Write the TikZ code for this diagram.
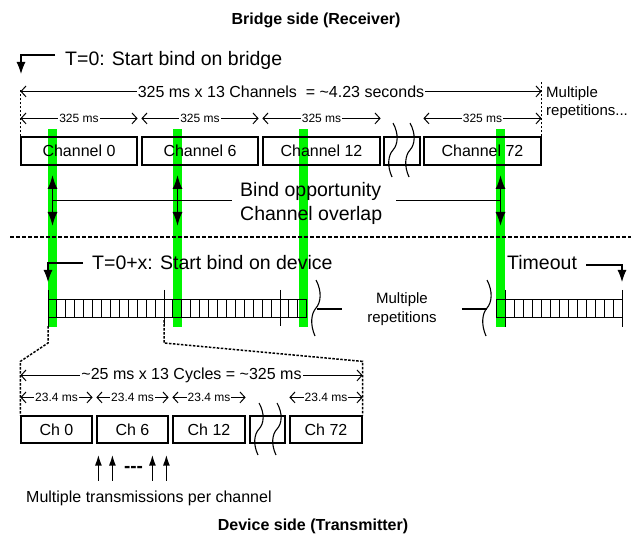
\documentclass[tikz,border=0pt]{standalone}
\usepackage{fontspec}
\setmainfont{Liberation Sans}
\usepackage{xcolor}
\usepackage{tikz}
\usetikzlibrary{arrows.meta, calc}
\definecolor{barGreen}{RGB}{0,245,0}
\newcommand\fbig{\fontsize{19.5}{24}\selectfont}
\newcommand\fmid{\fontsize{16}{19}\selectfont}
\newcommand\fnote{\fontsize{15}{18.5}\selectfont}
\newcommand\fsmall{\fontsize{12}{14}\selectfont}
\tikzset{
  chanbox/.style={rectangle, draw=black, line width=1.2pt, minimum height=28,
                  inner sep=0pt, font=\fmid},
  dimarrow/.style={{Straight Barb[length=5pt,width=11pt]}-{Straight Barb[length=5pt,width=11pt]},
                   line width=1pt},
  dimlbl/.style={fill=white, inner xsep=1pt, inner ysep=0pt, font=\fsmall},
  fillarrow/.style={-{Latex[length=12pt,width=9pt]}, line width=1.1pt},
  bindarrow/.style={{Latex[length=14pt,width=10pt]}-{Latex[length=14pt,width=10pt]}, line width=1.8pt},
  uparrow/.style={-{Latex[length=11pt,width=7pt]}, line width=1.6pt},
  thinline/.style={line width=1.1pt},
  cellline/.style={line width=1pt},
  breakline/.style={line width=1.1pt},
  zoomline/.style={dash pattern=on 2.5pt off 1.5pt, line width=1.5pt},
  sepline/.style={dash pattern=on 3.5pt off 2.5pt, line width=1.8pt},
}

\begin{document}
\begin{tikzpicture}[x=1pt, y=-1pt]
  \useasboundingbox (0,0) rectangle (631,534);

  %% Green overlap bars (behind everything)
  \foreach \bx in {48,173,299,496}
  {
    \fill[barGreen] (\bx,129) rectangle ++(9,198);
  }

  %% Titles
  \node[font=\fmid\bfseries, anchor=base] (ttop) at (316,25) {Bridge side (Receiver)};
  \node[font=\fmid\bfseries, anchor=base] (tbot) at (313,530) {Device side (Transmitter)};

  %% Bridge side channel row
  \foreach \cx/\w/\lbl/\nm in {79/116/Channel 0/c0, 200/116/Channel 6/c6,
                               321.5/117/Channel 12/c12, 402/36//cg, 482.5/117/Channel 72/c72}
  {
    \node[chanbox, minimum width=\w] (\nm) at (\cx,151) {\lbl};
  }
  \foreach \nm in {c0,c6,c12,c72}
  {
    \draw[dimarrow] ([yshift=18pt]\nm.north west) -- node[dimlbl] {325 ms} ([yshift=18pt]\nm.north east);
  }

  %% Overall span
  \draw[zoomline] (c0.north west) -- ++(0,-47);
  \draw[zoomline] (c72.north east) -- ++(0,-55);
  \draw[dimarrow] ([yshift=45pt]c0.north west) --
    node[dimlbl, font=\fmid] {325 ms x 13 Channels\ \ = \textasciitilde4.23 seconds}
    ([yshift=45pt]c72.north east);
  \node[font=\fnote, align=left, anchor=west, inner sep=0pt] (reptop) at (546,102.5) {Multiple\\repetitions...};

  %% Start marker
  \node[font=\fbig, anchor=base west, inner sep=0pt] (t0) at (65,66) {T=0: Start bind on bridge};
  \coordinate (t0tip) at (21,74);
  \draw[fillarrow] ([xshift=-10pt,yshift=11pt]t0.base west) -| (t0tip);

  %% Bind opportunity
  \foreach \ax/\nm in {52.5/b0, 177.5/b6, 500.5/b72}
  {
    \coordinate (\nm) at (\ax,200.7);
    \draw[bindarrow] (\ax,175) -- (\ax,226);
  }
  \node[font=\fbig, align=left, anchor=west, inner sep=0pt] (bind) at (240,203) {Bind opportunity\\Channel overlap};
  \draw[thinline] (b0) -- ([xshift=-8pt,yshift=2.3pt]bind.west);
  \draw[thinline] ([xshift=14pt,yshift=2.3pt]bind.east) -- (b72);

  %% Separator
  \coordinate (sepl) at (10,237);
  \coordinate (sepr) at (631,237);
  \draw[sepline] (sepl) -- (sepr);

  %% Device start / timeout
  \node[font=\fbig, anchor=base west, inner sep=0pt] (t0x) at (92,270) {T=0+x: Start bind on device};
  \coordinate (t0xtip) at (48,282);
  \draw[fillarrow] ([xshift=-9pt,yshift=7pt]t0x.base west) -| (t0xtip);
  \node[font=\fbig, anchor=base west, inner sep=0pt] (tout) at (507,270) {Timeout};
  \coordinate (touttip) at (622,282);
  \draw[fillarrow] ([xshift=9pt,yshift=5pt]tout.base east) -| (touttip);

  %% Transmission cycles
  \draw[cellline] (48,299) rectangle (306.8,317);
  \foreach \i in {1,...,28}
    \draw[cellline] (48+\i*8.923,299) -- ++(0,18);
  \foreach \tx in {48,164,280}
    \draw[cellline] (\tx,290) -- (\tx,326);
  \draw[cellline] (496,299) rectangle (622,317);
  \foreach \i in {0,...,12}
    \draw[cellline] (505+\i*9,299) -- ++(0,18);
  \foreach \tx in {505,622}
    \draw[cellline] (\tx,290) -- (\tx,327);

  %% Break marks
  \foreach \wx/\ya/\yb in {316/280/336, 487/280/336, 393/123/177, 410/123/177, 259/403/455, 277/403/455}
  {
    \draw[breakline] (\wx,\ya) .. controls (\wx+6,\ya+0.2*\yb-0.2*\ya) and (\wx+5,\ya+0.4*\yb-0.4*\ya) ..
      (\wx,0.5*\ya+0.5*\yb) .. controls (\wx-5,0.4*\ya+0.6*\yb) and (\wx-6,0.2*\ya+0.8*\yb) .. (\wx-1,\yb);
  }
  \node[font=\fnote, align=center, inner xsep=25pt, inner ysep=0pt] (repmid) at (402,309) {Multiple\\repetitions};
  \coordinate (wl) at (317,309);
  \coordinate (wr) at (487,309);
  \draw[thinline] (wl) -- (repmid.west);
  \draw[thinline] (repmid.east) -- (wr);

  %% Device side channel row
  \foreach \cx/\w/\lbl/\nm in {56.5/71/Ch 0/d0, 132.5/71/Ch 6/d6, 209/72/Ch 12/d12,
                               267.5/35//dg, 326/72/Ch 72/d72}
  {
    \node[chanbox, minimum width=\w, minimum height=27] (\nm) at (\cx,429.5) {\lbl};
  }
  \foreach \nm in {d0,d6,d12,d72}
  {
    \draw[dimarrow] ([yshift=18pt]\nm.north west) -- node[dimlbl] {23.4 ms} ([yshift=18pt]\nm.north east);
  }
  \draw[dimarrow] ([yshift=40pt]d0.north west) --
    node[dimlbl, font=\fmid] {\textasciitilde25 ms x 13 Cycles = \textasciitilde325 ms}
    ([yshift=40pt]d72.north east);

  %% Zoom lines
  \coordinate (zl) at (48,326);
  \coordinate (zr) at (164,320);
  \draw[zoomline] (zl) -- ++(0,17) -- ([yshift=54pt]d0.north west) -- (d0.north west);
  \draw[zoomline] (zr) -- ++(0,23) -- ([yshift=54pt]d72.north east) -- (d72.north east);

  %% Transmissions
  \foreach \ax in {2,16,56,70}
  {
    \draw[uparrow] ([xshift=\ax pt,yshift=-37pt]d6.south west) -- ++(0,-26);
  }
  \node[font=\fontsize{19}{22}\selectfont\bfseries] (dots) at (133.5,469) {-{}-{}-};
  \node[font=\fmid, anchor=base west, inner sep=0pt] (mtx) at (26,502) {Multiple transmissions per channel};

\end{tikzpicture}
\end{document}
